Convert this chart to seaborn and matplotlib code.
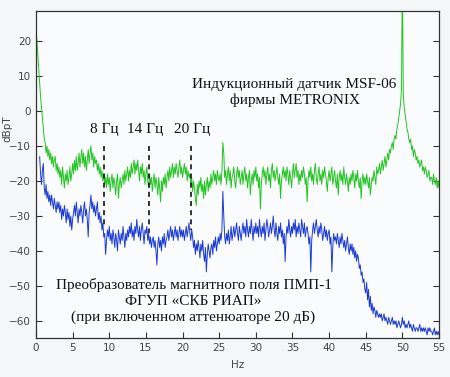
import numpy as np
import pandas as pd
import matplotlib
matplotlib.use('Agg')
import matplotlib.pyplot as plt
import seaborn as sns

# spectra, every 0.125 Hz from 0 to 55 Hz (one row = 1 Hz)
freq_hz = np.arange(0, 55.001, 0.125)

green_db = [
    24, 20, 16, 12, 8, 4, 1, -2,
    -5, -8, -9, -12, -10, -13, -11, -14,
    -12, -15, -13, -16, -14, -13, -17, -15,
    -18, -16, -19, -17, -21, -16, -19, -22,
    -18, -20, -17, -21, -19, -16, -20, -18,
    -15, -18, -14, -17, -13, -17, -15, -12,      # 5
    -16, -13, -11, -15, -12, -16, -13, -17,
    -14, -11, -15, -12, -10, -14, -12, -16,
    -13, -15, -14, -17, -15, -18, -16, -19,
    -17, -20, -18, -21, -19, -22, -18, -21,
    -19, -23, -20, -18, -22, -19, -21, -24,      # 10
    -20, -18, -25, -21, -19, -22, -20, -18,
    -21, -17, -20, -18, -16, -20, -17, -19,
    -15, -18, -16, -14, -18, -15, -17, -14,
    -17, -20, -16, -18, -15, -19, -17, -21,
    -18, -16, -20, -22, -18, -21, -19, -23,      # 15
    -20, -18, -22, -19, -21, -24, -19, -22,
    -26, -20, -23, -19, -21, -18, -22, -19,
    -17, -20, -16, -19, -17, -15, -19, -16,
    -18, -15, -17, -19, -16, -14, -18, -16,
    -19, -17, -15, -18, -16, -20, -17, -19,      # 20
    -18, -21, -19, -23, -20, -22, -25, -27,
    -21, -24, -20, -22, -19, -23, -21, -25,
    -20, -24, -21, -19, -23, -20, -22, -18,
    -21, -19, -17, -20, -18, -21, -17, -19,
    -20, -18, -21, -17, -9, -12, -19, -17,       # 25
    -21, -18, -16, -20, -17, -22, -19, -18,
    -16, -20, -22, -18, -16, -19, -17, -21,
    -19, -17, -21, -18, -16, -20, -18, -22,
    -19, -17, -24, -20, -18, -21, -17, -19,
    -16, -20, -18, -22, -19, -28, -21, -18,      # 30
    -16, -19, -17, -21, -18, -16, -20, -18,
    -22, -17, -15, -19, -17, -20, -18, -16,
    -19, -21, -18, -25, -20, -18, -16, -19,
    -17, -20, -16, -18, -21, -17, -19, -22,
    -18, -15, -19, -17, -15, -19, -17, -21,      # 35
    -18, -20, -17, -19, -16, -18, -21, -19,
    -26, -20, -17, -19, -16, -20, -18, -21,
    -17, -15, -19, -21, -18, -16, -20, -18,
    -21, -17, -19, -16, -18, -20, -23, -19,
    -17, -20, -18, -16, -21, -19, -17, -20,      # 40
    -22, -18, -24, -19, -17, -20, -18, -21,
    -16, -19, -21, -18, -20, -23, -19, -21,
    -18, -20, -17, -19, -22, -18, -20, -17,
    -20, -22, -19, -25, -20, -18, -21, -19,
    -21, -18, -20, -22, -19, -24, -21, -19,      # 45
    -20, -17, -19, -21, -16, -18, -17, -15,
    -18, -16, -14, -17, -15, -13, -16, -14,
    -12, -14, -11, -12, -10, -9, -11, -8,
    -7, -8, -5, -4, -2, 0, 2, 6,
    40, 5, 1, -1, -3, -5, -6, -8,                # 50
    -9, -8, -11, -10, -13, -11, -12, -14,
    -13, -15, -14, -16, -15, -14, -17, -16,
    -18, -16, -17, -19, -18, -17, -20, -19,
    -19, -21, -18, -20, -21, -19, -22, -20,
    -22,
]

blue_db = [
    np.nan, np.nan, np.nan, np.nan, -13, -18, -21, -17,
    -15, -22, -24, -21, -25, -23, -26, -24,
    -27, -24, -26, -28, -25, -27, -29, -26,
    -28, -26, -29, -27, -31, -28, -30, -27,
    -29, -32, -28, -31, -29, -33, -30, -34,
    -31, -29, -27, -30, -26, -29, -32, -28,      # 5
    -30, -27, -29, -32, -28, -26, -30, -28,
    -31, -36, -29, -27, -24, -28, -26, -29,
    -27, -30, -28, -26, -31, -29, -32, -30,
    -34, -32, -36, -35, -41, -37, -34, -36,
    -33, -37, -35, -38, -34, -36, -39, -35,      # 10
    -37, -40, -34, -36, -38, -35, -37, -33,
    -36, -39, -35, -37, -34, -36, -33, -35,
    -32, -36, -34, -37, -33, -35, -31, -34,
    -36, -33, -37, -34, -32, -35, -38, -34,
    -35, -33, -37, -35, -38, -36, -39, -37,      # 15
    -36, -39, -37, -40, -44, -38, -36, -39,
    -37, -40, -36, -38, -35, -39, -37, -36,
    -34, -37, -35, -33, -36, -34, -37, -35,
    -33, -36, -34, -37, -35, -33, -36, -34,
    -36, -34, -37, -35, -33, -36, -34, -32,      # 20
    -35, -37, -34, -36, -39, -37, -41, -38,
    -40, -37, -39, -42, -38, -40, -37, -41,
    -43, -39, -46, -41, -38, -40, -42, -39,
    -38, -41, -37, -39, -36, -40, -38, -36,
    -38, -35, -37, -34, -23, -30, -36, -38,      # 25
    -35, -37, -34, -38, -36, -33, -37, -35,
    -33, -36, -34, -32, -35, -37, -33, -35,
    -37, -34, -32, -35, -33, -36, -31, -34,
    -36, -33, -35, -31, -34, -37, -33, -35,
    -32, -35, -33, -36, -31, -34, -36, -33,      # 30
    -35, -32, -37, -34, -31, -33, -36, -34,
    -32, -35, -33, -30, -34, -36, -32, -35,
    -37, -33, -35, -32, -36, -34, -38, -35,
    -43, -36, -33, -35, -31, -34, -36, -33,
    -35, -32, -34, -31, -36, -33, -35, -32,      # 35
    -34, -36, -31, -33, -35, -32, -36, -34,
    -33, -35, -38, -36, -46, -37, -34, -32,
    -35, -33, -31, -34, -36, -33, -35, -32,
    -34, -37, -35, -33, -36, -34, -37, -35,
    -34, -38, -36, -46, -39, -35, -37, -36,      # 40
    -38, -35, -37, -39, -36, -38, -35, -37,
    -39, -37, -40, -38, -36, -39, -41, -38,
    -40, -38, -41, -39, -42, -40, -43, -41,
    -42, -45, -44, -47, -46, -49, -48, -51,
    -52, -49, -54, -51, -56, -53, -57, -55,      # 45
    -58, -56, -57, -59, -57, -58, -59, -58,
    -59, -58, -60, -59, -58, -60, -59, -60,
    -61, -59, -60, -61, -60, -59, -61, -60,
    -61, -60, -62, -61, -60, -61, -62, -61,
    -59, -61, -60, -62, -61, -62, -61, -60,      # 50
    -62, -61, -62, -63, -61, -62, -63, -62,
    -62, -63, -62, -61, -63, -62, -63, -62,
    -63, -62, -63, -64, -62, -63, -62, -63,
    -63, -64, -63, -62, -64, -63, -64, -63,
    -64,
]

# marked frequencies (dashed lines) and how far down they go
mark_hz = [9.26, 15.4, 21.2]
mark_low = [-33, -35, -34]
mark_text = ['8 Гц', '14 Гц', '20 Гц']
mark_text_x = [9.3, 14.9, 21.3]

df = pd.DataFrame({'Hz': freq_hz, 'green': green_db, 'blue': blue_db})

sns.set_style('ticks')
plt.rcParams['font.family'] = ['DejaVu Sans']
serif = ['Liberation Serif', 'DejaVu Serif']

fig = plt.figure(figsize=(4.5, 3.77), dpi=100, facecolor='#f4f6f8')
ax = fig.add_axes([0.08, 0.1034, 0.8956, 0.8674])
ax.set_facecolor('#fafbfc')

sns.lineplot(data=df, x='Hz', y='green', color='#22c422', lw=0.7, ax=ax)
sns.lineplot(data=df, x='Hz', y='blue', color='#1a3ad6', lw=0.7, ax=ax)

for x, lo in zip(mark_hz, mark_low):
    ax.plot([x, x], [-10, lo], color='#111111', lw=1.2, ls=(0, (3, 2.5)))
for x, t in zip(mark_text_x, mark_text):
    ax.text(x, -5.4, t, ha='center', va='center', fontsize=11,
            family=serif, color='#111111')

ax.text(35.3, 7.7, 'Индукционный датчик MSF-06', ha='center', va='center',
        fontsize=11, family=serif, color='#111111')
ax.text(35.3, 3.1, 'фирмы METRONIX', ha='center', va='center',
        fontsize=11, family=serif, color='#111111')
ax.text(21.5, -49.7, 'Преобразователь магнитного поля ПМП-1', ha='center', va='center',
        fontsize=11, family=serif, color='#111111')
ax.text(21.5, -54.6, 'ФГУП «СКБ РИАП»', ha='center', va='center',
        fontsize=11, family=serif, color='#111111')
ax.text(21.5, -59.1, '(при включенном аттенюаторе 20 дБ)', ha='center', va='center',
        fontsize=11, family=serif, color='#111111')

ax.set_xlim(0, 55)
ax.set_ylim(-64.9, 28.6)
ax.set_xticks(range(0, 56, 5))
ax.set_yticks(range(-60, 21, 10))
ax.tick_params(direction='in', length=4, width=0.8, labelsize=7.5,
               labelcolor='#444444', color='#333333', right=True, top=False)
ax.set_xlabel('Hz', fontsize=7.5, color='#444444')
ax.set_ylabel('dBpT', fontsize=7.5, color='#444444')
ax.xaxis.set_label_coords(0.5, -0.067)
ax.yaxis.set_label_coords(-0.058, 0.64)
for s in ax.spines.values():
    s.set_visible(True)
    s.set_color('#333333')
    s.set_linewidth(0.9)

fig.savefig('out.png', dpi=100, facecolor=fig.get_facecolor())
